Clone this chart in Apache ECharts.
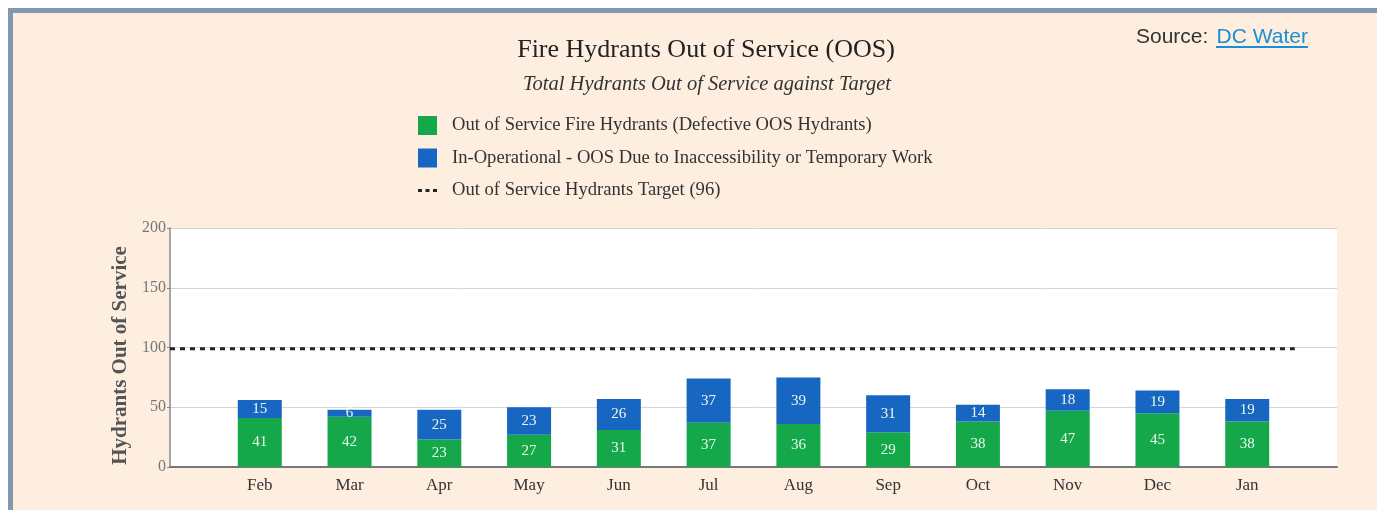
<!DOCTYPE html>
<html>
<head>
<meta charset="utf-8">
<script src="https://cdn.jsdelivr.net/npm/echarts@6/dist/echarts.min.js"></script>
<style>
  html, body { margin: 0; padding: 0; background: #fff; width: 1377px; height: 510px; overflow: hidden; }
  .frame {
    position: absolute; left: 8px; top: 8px; right: 0; bottom: -20px;
    border-top: 5px solid #8199b0; border-left: 5px solid #8199b0;
    background: #fdeee0;
  }
  #chart { position: absolute; left: 0; top: 0; width: 1377px; height: 510px; }
</style>
</head>
<body>
<div class="frame"></div>
<div id="chart"></div>
<script>
// months shown on the x axis
const months = ['Feb', 'Mar', 'Apr', 'May', 'Jun', 'Jul', 'Aug', 'Sep', 'Oct', 'Nov', 'Dec', 'Jan']
// defective out of service hydrants (green)
const defective = [41, 42, 23, 27, 31, 37, 36, 29, 38, 47, 45, 38]
// in-operational, inaccessible or temporary work (blue)
const inOperational = [15, 6, 25, 23, 26, 37, 39, 31, 14, 18, 19, 19]
// target line as drawn
const target = 99
const yTicks = [0, 50, 100, 150, 200]

const serif = '"Liberation Serif", "DejaVu Serif", serif'
const names = [
  'Out of Service Fire Hydrants (Defective OOS Hydrants)',
  'In-Operational - OOS Due to Inaccessibility or Temporary Work',
  'Out of Service Hydrants Target (96)',
]

// empty slot at each end of the month axis, like the original
const cats = ['', ...months, '']
const pad = arr => [null, ...arr, null]

const chart = echarts.init(document.getElementById('chart'))

const barLabel = {
  show: true,
  position: 'inside',
  color: '#eef8ea',
  fontFamily: serif,
  fontSize: 15,
}

const option = {
  backgroundColor: 'transparent',
  animation: false,
  title: [
    {
      text: 'Fire Hydrants Out of Service (OOS)',
      left: 701, top: 32, textAlign: 'center',
      textStyle: { fontFamily: serif, fontSize: 26, fontWeight: 'normal', color: '#222' },
    },
    {
      text: 'Total Hydrants Out of Service against Target',
      left: 702, top: 70, textAlign: 'center',
      textStyle: { fontFamily: serif, fontSize: 20.5, fontStyle: 'italic', fontWeight: 'normal', color: '#333' },
    },
  ],
  graphic: [
    {
      type: 'text', left: 1136, top: 27,
      style: { text: 'Source: ', font: '21px "Liberation Sans", Arial, sans-serif', fill: '#333' },
    },
    {
      type: 'text', right: 1377 - 1308, top: 27,
      style: { text: 'DC Water', font: '21px "Liberation Sans", Arial, sans-serif', fill: '#1b8fd2' },
    },
    {
      type: 'rect', left: 1216, top: 46,
      shape: { width: 92, height: 2 },
      style: { fill: '#1b8fd2' },
    },
  ],
  legend: {
    orient: 'vertical',
    left: 418, top: 116, padding: 0,
    itemWidth: 19, itemHeight: 19, itemGap: 13.5,
    textStyle: { fontFamily: serif, fontSize: 18.6, color: '#333', padding: [0, 0, 0, 10] },
    data: [
      { name: names[0], icon: 'rect' },
      { name: names[1], icon: 'rect' },
      {
        name: names[2],
        icon: 'path://M9,0h0.01v0.01h-0.01z M0,8h4v3h-4z M7.5,8h4v3h-4z M15,8h4v3h-4z M9,19h0.01v0.01h-0.01z',
        itemStyle: { color: '#222' },
      },
    ],
  },
  grid: {
    left: 170, right: 40, top: 228, bottom: 43,
    show: true, backgroundColor: '#fff', borderWidth: 0,
  },
  xAxis: [
    {
      type: 'category',
      data: cats,
      boundaryGap: false,
      axisLine: { show: true, lineStyle: { color: '#777', width: 2 } },
      axisTick: { show: false },
      splitLine: { show: false },
      axisLabel: { margin: 10, fontFamily: serif, fontSize: 17, color: '#333', interval: 0 },
    },
    {
      // hidden helper axis for the target line
      type: 'value', min: -1, max: 12, show: false,
    },
  ],
  yAxis: {
    type: 'value',
    min: yTicks[0], max: yTicks[yTicks.length - 1], interval: 50,
    name: 'Hydrants Out of Service',
    nameLocation: 'middle', nameGap: 36,
    nameTextStyle: { fontFamily: serif, fontSize: 21, fontWeight: 'bold', color: '#555', padding: [0, 16, 0, 0] },
    axisLine: { show: true, onZero: false, lineStyle: { color: '#888', width: 1.5 } },
    axisTick: { show: true, length: 3, lineStyle: { color: '#888' } },
    splitLine: { lineStyle: { color: '#d4d4d4', width: 1 } },
    axisLabel: { margin: 4, fontFamily: serif, fontSize: 16, color: '#777' },
  },
  series: [
    {
      name: names[0], type: 'bar', stack: 'oos', barWidth: 44,
      itemStyle: { color: '#14a84b' },
      label: barLabel,
      data: pad(defective),
    },
    {
      name: names[1], type: 'bar', stack: 'oos', barWidth: 44,
      itemStyle: { color: '#1767c2' },
      label: barLabel,
      data: pad(inOperational),
    },
    {
      name: names[2], type: 'line', symbol: 'none', xAxisIndex: 1,
      lineStyle: { type: [5, 5], width: 3, color: '#222' },
      data: [[-1, target], [11.53, target]],
    },
  ],
}

chart.setOption(option)
</script>
</body>
</html>
